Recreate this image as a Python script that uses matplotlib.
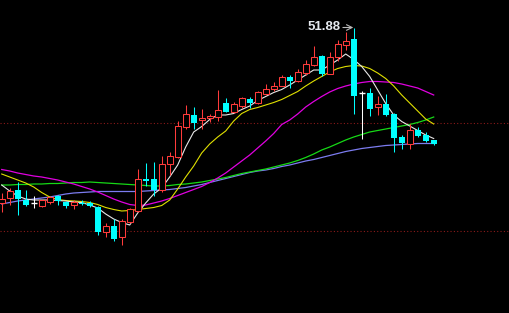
import matplotlib
matplotlib.use("Agg")
import matplotlib.pyplot as plt
import numpy as np

# ---- data (prices) ----
opens = [48.38, 48.48, 48.63, 48.44, 48.38, 48.32, 48.40, 48.51, 48.38, 48.33,
         48.38, 48.37, 48.30, 47.80, 47.92, 47.70, 48.00, 48.22, 48.85, 48.85,
         48.63, 49.16, 49.30, 49.89, 50.14, 50.04, 50.08, 50.09, 50.37, 50.20,
         50.32, 50.46, 50.38, 50.56, 50.65, 50.72, 50.88, 50.81, 50.98, 51.14,
         51.32, 50.96, 51.30, 51.54, 51.65, 50.58, 50.58, 50.30, 50.36, 50.15,
         49.69, 49.55, 49.84, 49.74, 49.63]
closes = [48.46, 48.62, 48.46, 48.34, 48.38, 48.42, 48.50, 48.41, 48.32, 48.40,
          48.36, 48.32, 47.80, 47.92, 47.66, 48.01, 48.25, 48.85, 48.82, 48.63,
          49.16, 49.31, 49.91, 50.16, 49.98, 50.07, 50.12, 50.24, 50.20, 50.35,
          50.47, 50.38, 50.59, 50.66, 50.72, 50.90, 50.81, 50.99, 51.15, 51.30,
          50.96, 51.30, 51.55, 51.62, 50.51, 50.58, 50.25, 50.35, 50.13, 49.68,
          49.58, 49.84, 49.72, 49.62, 49.56]
highs = [48.58, 48.68, 48.80, 48.63, 48.51, 48.43, 48.52, 48.53, 48.41, 48.43,
         48.44, 48.42, 48.32, 47.97, 48.06, 48.05, 48.28, 49.05, 49.17, 49.19,
         49.32, 49.40, 50.01, 50.33, 50.30, 50.26, 50.16, 50.63, 50.47, 50.39,
         50.50, 50.50, 50.62, 50.76, 50.80, 50.93, 50.93, 51.05, 51.24, 51.52,
         51.33, 51.39, 51.64, 51.79, 51.88, 50.62, 50.67, 50.52, 50.56, 50.17,
         49.73, 49.96, 49.90, 49.80, 49.64]
lows = [48.20, 48.33, 48.13, 48.32, 48.28, 48.30, 48.36, 48.34, 48.28, 48.25,
        48.34, 48.30, 47.73, 47.69, 47.61, 47.53, 47.98, 48.19, 48.71, 48.51,
        48.60, 48.93, 49.28, 49.86, 49.85, 49.85, 49.99, 50.02, 50.20, 50.18,
        50.28, 50.28, 50.35, 50.54, 50.62, 50.71, 50.68, 50.79, 50.94, 51.12,
        50.92, 50.95, 51.21, 51.43, 50.16, 49.66, 50.11, 50.13, 50.11, 49.40,
        49.45, 49.46, 49.70, 49.60, 49.53]

ma5 = [48.73, 48.61, 48.51, 48.45, 48.43, 48.43, 48.43, 48.42, 48.41, 48.39,
       48.38, 48.33, 48.27, 48.15, 48.05, 47.98, 47.93, 48.17, 48.37, 48.55,
       48.67, 48.89, 49.13, 49.49, 49.79, 49.90, 50.04, 50.13, 50.13, 50.16,
       50.24, 50.31, 50.42, 50.50, 50.58, 50.64, 50.73, 50.83, 50.93, 51.03,
       51.03, 51.13, 51.23, 51.35, 51.24, 51.10, 50.90, 50.63, 50.36, 50.13,
       50.00, 49.91, 49.82, 49.73, 49.66]
ma10 = [48.95, 48.89, 48.83, 48.77, 48.69, 48.58, 48.49, 48.44, 48.42, 48.41,
        48.40, 48.38, 48.34, 48.28, 48.24, 48.21, 48.22, 48.24, 48.26, 48.28,
        48.32, 48.43, 48.65, 48.89, 49.11, 49.37, 49.55, 49.69, 49.81, 50.01,
        50.16, 50.24, 50.28, 50.33, 50.38, 50.44, 50.52, 50.60, 50.71, 50.81,
        50.90, 50.99, 51.06, 51.10, 51.12, 51.11, 51.06, 50.97, 50.86, 50.71,
        50.53, 50.37, 50.21, 50.05, 49.95]
ma20 = [49.04, 49.01, 48.97, 48.94, 48.91, 48.89, 48.86, 48.83, 48.79, 48.75,
        48.70, 48.65, 48.59, 48.52, 48.45, 48.39, 48.34, 48.32, 48.33, 48.37,
        48.41, 48.46, 48.52, 48.58, 48.64, 48.70, 48.78, 48.87, 48.97, 49.09,
        49.21, 49.33, 49.47, 49.61, 49.76, 49.94, 50.03, 50.15, 50.29, 50.40,
        50.50, 50.59, 50.66, 50.71, 50.75, 50.78, 50.80, 50.80, 50.79, 50.78,
        50.75, 50.71, 50.67, 50.60, 50.53]
ma60 = [48.73, 48.73, 48.74, 48.74, 48.75, 48.75, 48.76, 48.76, 48.77, 48.78,
        48.78, 48.79, 48.78, 48.77, 48.76, 48.75, 48.74, 48.73, 48.72, 48.71,
        48.71, 48.72, 48.74, 48.75, 48.77, 48.79, 48.82, 48.85, 48.88, 48.92,
        48.96, 48.99, 49.02, 49.05, 49.09, 49.13, 49.17, 49.22, 49.28, 49.35,
        49.43, 49.49, 49.56, 49.63, 49.69, 49.74, 49.79, 49.82, 49.85, 49.88,
        49.91, 49.94, 49.98, 50.03, 50.09]
ma120 = [48.35, 48.38, 48.41, 48.43, 48.45, 48.47, 48.49, 48.52, 48.55, 48.57,
         48.58, 48.59, 48.60, 48.60, 48.60, 48.60, 48.60, 48.60, 48.61, 48.62,
         48.63, 48.64, 48.66, 48.68, 48.71, 48.74, 48.78, 48.82, 48.86, 48.90,
         48.94, 48.98, 49.01, 49.03, 49.06, 49.10, 49.13, 49.17, 49.21, 49.24,
         49.28, 49.32, 49.36, 49.40, 49.43, 49.46, 49.48, 49.50, 49.52, 49.53,
         49.54, 49.55, 49.56, 49.56, 49.56]

ref_levels = [49.97, 47.81]
peak_label = "51.88"

# ---- styling ----
RED = "#ff3b3b"
CYAN = "#00ffff"
W = 0.72
LW = 0.75

fig = plt.figure(figsize=(5.10, 3.13), dpi=100)
fig.patch.set_facecolor("black")
ax = fig.add_axes([0, 0, 1, 1])
ax.set_facecolor("black")
for s in ax.spines.values():
    s.set_visible(False)
ax.set_xticks([])
ax.set_yticks([])

n = len(opens)
x = np.arange(n)

for lvl in ref_levels:
    ax.axhline(lvl, color="#8b1a1a", lw=0.8, ls=(0, (1, 2)), zorder=1)

ax.plot(x, ma120, color="#7c7cf0", lw=0.9, zorder=2)
ax.plot(x, ma60, color="#16d916", lw=0.9, zorder=2)
ax.plot(x, ma20, color="#e000e0", lw=0.9, zorder=2)
ax.plot(x, ma10, color="#e0e000", lw=0.8, zorder=2)
ax.plot(x, ma5, color="#e8e8e8", lw=0.8, zorder=2)

for i in range(n):
    o, c, h, l = opens[i], closes[i], highs[i], lows[i]
    if c > o:
        ax.vlines(i, c, h, color=RED, lw=LW, zorder=3)
        ax.vlines(i, l, o, color=RED, lw=LW, zorder=3)
        ax.bar(i, c - o, bottom=o, width=W, facecolor="black",
               edgecolor=RED, linewidth=LW, zorder=4)
    elif c < o:
        ax.vlines(i, l, h, color=CYAN, lw=LW, zorder=3)
        ax.bar(i, o - c, bottom=c, width=W, color=CYAN, linewidth=0, zorder=4)
    else:
        ax.vlines(i, l, h, color="white", lw=LW, zorder=3)
        ax.hlines(o, i - W / 2, i + W / 2, color="white", lw=1.0, zorder=4)

imax = int(np.argmax(highs))
ax.annotate("", xy=(imax - 0.05, highs[imax]), xytext=(imax - 1.35, highs[imax]),
            arrowprops=dict(arrowstyle="->", color="#bbbbbb", lw=0.8,
                            shrinkA=0, shrinkB=0), zorder=5)
ax.text(imax - 1.6, highs[imax], peak_label, color="#e6eaf0", fontsize=9.5,
        fontweight="bold", family="Liberation Sans", ha="right", va="center",
        zorder=5)

ax.set_xlim(-0.2125, 63.5375)
ax.set_ylim(46.17, 52.43)

fig.savefig("out.png", dpi=100, facecolor="black")
